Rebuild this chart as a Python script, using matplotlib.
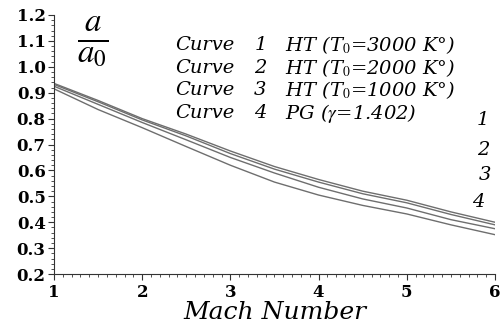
import matplotlib
matplotlib.use("Agg")
import matplotlib.pyplot as plt
from matplotlib.ticker import MultipleLocator

# Mach number grid and speed-of-sound ratio a/a0
mach = [1.0, 1.5, 2.0, 2.5, 3.0, 3.5, 4.0, 4.5, 5.0, 5.5, 6.0]
curve1 = [0.936, 0.870, 0.800, 0.740, 0.675, 0.615, 0.565, 0.520, 0.485, 0.440, 0.400]
curve2 = [0.932, 0.865, 0.795, 0.733, 0.665, 0.605, 0.555, 0.510, 0.475, 0.430, 0.390]
curve3 = [0.925, 0.855, 0.785, 0.718, 0.650, 0.590, 0.535, 0.490, 0.455, 0.410, 0.375]
curve4 = [0.915, 0.835, 0.765, 0.692, 0.620, 0.555, 0.505, 0.465, 0.432, 0.390, 0.352]

curve_names = ["1", "2", "3", "4"]
curve_desc = [r"HT (T$_0$=3000 K°)", r"HT (T$_0$=2000 K°)",
              r"HT (T$_0$=1000 K°)", r"PG ($\gamma$=1.402)"]

plt.rcParams["mathtext.fontset"] = "stix"
SERIF = "DejaVu Serif"
LINE = "#6e6e6e"

fig = plt.figure(figsize=(5.01, 3.33), dpi=100)
ax = fig.add_axes([0.1078, 0.177, 0.8802, 0.778])

for ys in (curve1, curve2, curve3, curve4):
    ax.plot(mach, ys, color=LINE, lw=1.0)

ax.set_xlim(1, 6)
ax.set_ylim(0.2, 1.2)
ax.xaxis.set_major_locator(MultipleLocator(1))
ax.xaxis.set_minor_locator(MultipleLocator(0.1))
ax.yaxis.set_major_locator(MultipleLocator(0.1))
ax.yaxis.set_minor_locator(MultipleLocator(0.02))
ax.yaxis.set_major_formatter(plt.FuncFormatter(lambda v, p: f"{v:.1f}"))
ax.tick_params(which="major", direction="out", length=4, width=0.8, color="#333333")
ax.tick_params(which="minor", direction="out", length=2.5, width=0.6, color="#333333")
ax.tick_params(axis="x", pad=3)
ax.tick_params(axis="y", pad=2)
for lab in ax.get_xticklabels() + ax.get_yticklabels():
    lab.set_fontfamily(SERIF)
    lab.set_fontsize(12)
    lab.set_fontweight("bold")

ax.spines["top"].set_visible(False)
ax.spines["right"].set_visible(False)
for s in ("left", "bottom"):
    ax.spines[s].set_color("#333333")
    ax.spines[s].set_linewidth(0.8)

ax.set_xlabel("Mach Number", fontfamily=SERIF, style="italic", fontsize=18, labelpad=0)
ax.text(0.087, 0.895, r"$\frac{a}{a_0}$", transform=ax.transAxes, fontsize=34,
        ha="center", va="center")

# legend block written as text
row_y = [45, 68, 90, 113]
for name, desc, py in zip(curve_names, curve_desc, row_y):
    yy = 1.2 - (py - 15) / 259.0
    ax.text(2.37, yy, "Curve", fontfamily=SERIF, style="italic", fontsize=14, va="center")
    ax.text(3.27, yy, name, fontfamily=SERIF, style="italic", fontsize=14, va="center")
    ax.text(3.62, yy, desc, fontfamily=SERIF, style="italic", fontsize=14, va="center")

# curve numbers on the right
for name, (px, py) in zip(curve_names, [(483, 120), (483, 150), (485, 175), (478, 202)]):
    ax.text(1 + (px - 54) / 88.2, 1.2 - (py - 15) / 259.0, name, fontfamily=SERIF,
            style="italic", fontsize=14, ha="center", va="center")

fig.savefig("out.png", dpi=100)
